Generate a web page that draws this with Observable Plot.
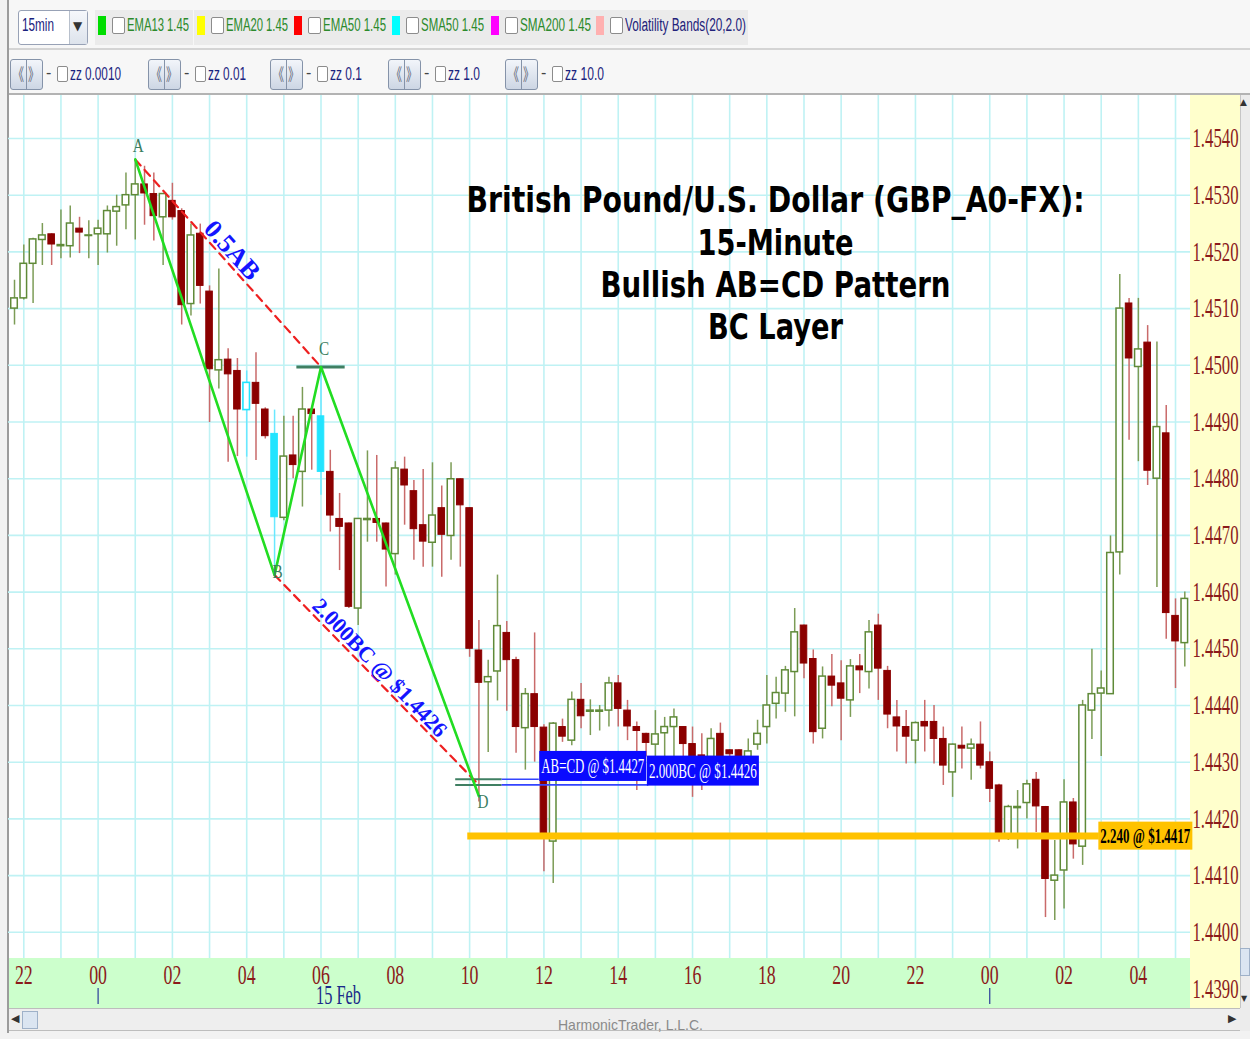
<!DOCTYPE html>
<html><head><meta charset="utf-8">
<script src="https://cdn.jsdelivr.net/npm/d3@7"></script>
<script src="https://cdn.jsdelivr.net/npm/@observablehq/plot@0.6"></script>
<style>
body{margin:0;background:#fff;width:1250px;height:1039px;overflow:hidden;font-family:"Liberation Sans",Arial,sans-serif}
#page{position:relative;width:1250px;height:1039px;background:#f2f2f2;overflow:hidden}
</style></head><body><div id="page"></div>
<script>
// ---------------- data ----------------
const startTime = Date.UTC(2011, 1, 14, 21, 45); // first 15-min bar
const barMinutes = 15;
const opens = [1.45100,1.45118,1.45179,1.45221,1.45231,1.45210,1.45210,1.45241,1.45228,1.45231,1.45231,1.45271,1.45282,1.45300,1.45319,1.45302,1.45261,1.45290,1.45272,1.45108,1.45232,1.45130,1.44991,1.45010,1.44990,1.44921,1.44969,1.44922,1.44879,1.44731,1.44841,1.44812,1.44922,1.44910,1.44812,1.44729,1.44721,1.44571,1.44727,1.44729,1.44721,1.44667,1.44816,1.44778,1.44718,1.44687,1.44748,1.44699,1.44799,1.44748,1.44497,1.44441,1.44460,1.44528,1.44480,1.44360,1.44420,1.44361,1.44160,1.44362,1.44338,1.44410,1.44389,1.44389,1.44391,1.44439,1.44391,1.44362,1.44350,1.44331,1.44351,1.44362,1.44362,1.44332,1.44312,1.44309,1.44350,1.44321,1.44321,1.44309,1.44331,1.44362,1.44403,1.44421,1.44459,1.44541,1.44482,1.44359,1.44451,1.44439,1.44409,1.44469,1.44459,1.44541,1.44461,1.44379,1.44362,1.44338,1.44371,1.44371,1.44341,1.44282,1.44329,1.44324,1.44331,1.44300,1.44259,1.44171,1.44219,1.44228,1.44269,1.44221,1.44091,1.44109,1.44229,1.44151,1.44391,1.44421,1.44420,1.44670,1.45109,1.44997,1.45040,1.44800,1.44880,1.44558,1.44510];
const highs = [1.45150,1.45212,1.45224,1.45250,1.45232,1.45274,1.45281,1.45261,1.45255,1.45256,1.45281,1.45300,1.45339,1.45363,1.45351,1.45339,1.45303,1.45321,1.45276,1.45249,1.45249,1.45140,1.45170,1.45029,1.45012,1.44990,1.45022,1.44925,1.44921,1.44910,1.44910,1.44961,1.44923,1.44997,1.44850,1.44774,1.44722,1.44730,1.44849,1.44841,1.44722,1.44830,1.44838,1.44797,1.44816,1.44828,1.44787,1.44828,1.44800,1.44749,1.44550,1.44480,1.44630,1.44548,1.44485,1.44430,1.44528,1.44366,1.44370,1.44376,1.44424,1.44439,1.44410,1.44400,1.44450,1.44453,1.44409,1.44371,1.44351,1.44391,1.44379,1.44394,1.44363,1.44362,1.44350,1.44359,1.44369,1.44322,1.44322,1.44341,1.44374,1.44453,1.44450,1.44469,1.44571,1.44542,1.44498,1.44468,1.44490,1.44479,1.44481,1.44490,1.44550,1.44561,1.44469,1.44409,1.44391,1.44371,1.44409,1.44400,1.44362,1.44332,1.44362,1.44341,1.44371,1.44318,1.44261,1.44224,1.44250,1.44268,1.44282,1.44222,1.44162,1.44269,1.44236,1.44409,1.44499,1.44461,1.44699,1.45160,1.45118,1.45118,1.45070,1.45041,1.44929,1.44588,1.44600];
const lows = [1.45071,1.45115,1.45109,1.45176,1.45176,1.45188,1.45189,1.45197,1.45188,1.45176,1.45198,1.45210,1.45239,1.45221,1.45247,1.45219,1.45176,1.45256,1.45071,1.45087,1.45108,1.44899,1.44958,1.44829,1.44839,1.44838,1.44832,1.44870,1.44630,1.44726,1.44800,1.44750,1.44815,1.44771,1.44706,1.44638,1.44571,1.44541,1.44688,1.44688,1.44609,1.44630,1.44718,1.44656,1.44644,1.44644,1.44626,1.44656,1.44644,1.44485,1.44230,1.44317,1.44408,1.44390,1.44316,1.44286,1.44300,1.44107,1.44086,1.44335,1.44329,1.44359,1.44347,1.44355,1.44362,1.44362,1.44338,1.44250,1.44309,1.44303,1.44309,1.44309,1.44303,1.44238,1.44250,1.44297,1.44291,1.44294,1.44303,1.44303,1.44321,1.44332,1.44376,1.44388,1.44380,1.44447,1.44332,1.44341,1.44398,1.44338,1.44379,1.44421,1.44429,1.44409,1.44359,1.44318,1.44297,1.44297,1.44318,1.44297,1.44259,1.44238,1.44288,1.44268,1.44288,1.44229,1.44159,1.44162,1.44147,1.44200,1.44176,1.44026,1.44021,1.44041,1.44129,1.44118,1.44340,1.44310,1.44420,1.44630,1.44868,1.44830,1.44788,1.44608,1.44517,1.44430,1.44468];
const closes = [1.45118,1.45179,1.45222,1.45229,1.45213,1.45212,1.45250,1.45234,1.45229,1.45241,1.45272,1.45279,1.45300,1.45319,1.45303,1.45263,1.45302,1.45261,1.45106,1.45229,1.45140,1.44993,1.45009,1.44984,1.44922,1.44969,1.44932,1.44875,1.44732,1.44839,1.44824,1.44922,1.44914,1.44812,1.44735,1.44715,1.44574,1.44729,1.44729,1.44722,1.44675,1.44818,1.44788,1.44711,1.44689,1.44735,1.44701,1.44799,1.44753,1.44500,1.44440,1.44450,1.44540,1.44480,1.44362,1.44420,1.44362,1.44175,1.44368,1.44345,1.44410,1.44381,1.44391,1.44391,1.44439,1.44394,1.44363,1.44355,1.44334,1.44349,1.44362,1.44379,1.44332,1.44309,1.44306,1.44341,1.44309,1.44314,1.44309,1.44319,1.44350,1.44400,1.44422,1.44462,1.44529,1.44474,1.44353,1.44451,1.44435,1.44412,1.44469,1.44462,1.44529,1.44465,1.44384,1.44363,1.44345,1.44369,1.44363,1.44341,1.44294,1.44331,1.44324,1.44331,1.44294,1.44253,1.44174,1.44221,1.44221,1.44261,1.44222,1.44094,1.44100,1.44229,1.44155,1.44400,1.44420,1.44430,1.44669,1.45100,1.45012,1.45028,1.44814,1.44891,1.44563,1.44513,1.44588];
const highlightedBars = [25, 28, 33];           // cyan bars

const yTicks = [1.4390,1.4400,1.4410,1.4420,1.4430,1.4440,1.4450,1.4460,1.4470,1.4480,1.4490,1.4500,1.4510,1.4520,1.4530,1.4540];

// AB=CD pattern (bar index, price)
const patternNames = ["A", "B", "C", "D"];
const patternBars = [13, 28, 33, 50];
const patternPrices = [1.45363, 1.44630, 1.44997, 1.44240];

// projected levels
const levelPrices = [1.4427, 1.4426, 1.4417];
const levelTexts = ["AB=CD @ $1.4427", "2.000BC @ $1.4426", "2.240 @ $1.4417"];
const levelStartBar = [47.5, 47.5, 48.8];
const levelLabelBar = [56.5, 68.3, 116.8];

const ratioTexts = ["0.5AB", "2.000BC @ $1.4426"];
const ratioEnd = [1.4426];

const titleLines = ["British Pound/U.S. Dollar (GBP_A0-FX):", "15-Minute", "Bullish AB=CD Pattern", "BC Layer"];

const indicatorNames = ["EMA13 1.45","EMA20 1.45","EMA50 1.45","SMA50 1.45","SMA200 1.45","Volatility Bands(20,2.0)"];
const indicatorColors = ["#00dd00","#ffff00","#ff0000","#00ffff","#ff00ff","#ffb0b0"];
const zigzagNames = ["zz 0.0010","zz 0.01","zz 0.1","zz 1.0","zz 10.0"];

// ---------------- helpers ----------------
const at = i => new Date(startTime + i * barMinutes * 60000);
const page = document.getElementById("page");
function box(x, y, w, h, style) {
  const d = document.createElement("div");
  d.style.cssText = `position:absolute;left:${x}px;top:${y}px;width:${w}px;height:${h}px;box-sizing:border-box;${style || ""}`;
  page.appendChild(d); return d;
}
function label(x, y, text, style, targetW) {
  const d = document.createElement("div");
  d.textContent = text;
  d.style.cssText = `position:absolute;left:${x}px;top:${y}px;white-space:nowrap;transform-origin:0 0;${style || ""}`;
  page.appendChild(d);
  if (targetW) { const w = d.getBoundingClientRect().width; d.style.transform = `scaleX(${targetW / w})`; }
  return d;
}

// ---------------- toolbar ----------------
box(8, 0, 1242, 48, "background:#f7f7f7");
box(8, 48, 1242, 2, "background:#d4d4d4");
box(8, 50, 1242, 43, "background:#f7f7f7");
box(8, 93, 1242, 2, "background:#b3b3b3");
box(18, 10, 70, 35, "background:#fff;border:1px solid #98a2b6;border-radius:3px");
box(69, 11, 1, 33, "background:#b8c0cc");
box(70, 11, 17, 33, "background:linear-gradient(#f6f8fb,#dde3ec)");
label(22, 15, "15min", "font:18px 'Liberation Sans';color:#1a237e", 32);
label(73, 19, "▼", "font:12px 'DejaVu Sans';color:#333");
const itemX = [95, 194, 291, 389, 488, 593], itemW = [98, 97, 98, 99, 105, 155], itemTW = [62, 62, 63, 63, 71, 121];
indicatorNames.forEach((n, k) => {
  const x = itemX[k];
  box(x, 10, itemW[k], 35, "background:#ebebeb");
  box(x + 3, 16, 8, 19, `background:${indicatorColors[k]}`);
  box(x + 17, 17, 13, 17, "background:#fff;border:1px solid #8c8c8c;border-radius:2px");
  label(x + 32, 15, n, `font:18px 'Liberation Sans';color:${k < 5 ? "#2c8a2c" : "#22227a"}`, itemTW[k]);
});
const zzX = [10, 148, 270, 388, 505], zzTW = [51, 38, 32, 32, 39];
zigzagNames.forEach((n, k) => {
  const x = zzX[k];
  box(x, 59, 33, 31, "background:linear-gradient(#f2f5fa,#cdd6e4);border:1px solid #8593a9;border-radius:3px");
  box(x + 16, 60, 1, 29, "background:#8593a9");
  label(x + 3, 61, "《", "font:17px 'Noto Sans CJK SC';color:#5a6070", 11);
  label(x + 18, 61, "》", "font:17px 'Noto Sans CJK SC';color:#5a6070", 11);
  label(x + 36, 64, "-", "font:16px 'Liberation Sans';color:#444");
  box(x + 47, 66, 11, 16, "background:#fff;border:1px solid #8c8c8c;border-radius:2px");
  label(x + 60, 64, n, "font:18px 'Liberation Sans';color:#1a237e", zzTW[k]);
});

// ---------------- chart backgrounds ----------------
box(8, 95, 1182, 863, "background:#fff");
box(1190, 95, 50, 913, "background:#ffffcc");
box(8, 958, 1182, 50, "background:#ccffcc");
box(1240, 95, 10, 913, "background:#ececec;border-left:1px solid #c6c6c6");
label(1240, 97, "▲", "font:9px 'DejaVu Sans';color:#333");
box(1240, 948, 10, 28, "background:#dbe5f1;border:1px solid #9fb1c8");
label(1241, 994, "▼", "font:8px 'DejaVu Sans';color:#333");
box(8, 1008, 1232, 23, "background:#eeeeee;border-top:1px solid #bdbdbd;border-bottom:1px solid #bdbdbd");
label(11, 1012, "◀", "font:11px 'DejaVu Sans';color:#333");
box(22, 1011, 16, 18, "background:#dbe5f1;border:1px solid #9fb1c8");
label(1228, 1012, "▶", "font:11px 'DejaVu Sans';color:#333");
box(1240, 1008, 10, 23, "background:#ececec");
label(558, 1016, "HarmonicTrader, L.L.C.", "font:15px 'Liberation Sans';color:#8a8a8a", 145);
box(7, 0, 2, 1033, "background:#9c9c9c");

// ---------------- chart ----------------
const candles = opens.map((o, i) => ({t: at(i), o, h: highs[i], l: lows[i], c: closes[i], hl: highlightedBars.includes(i)}));
const up = d => d.c >= d.o;
const half = 5.3 * 60000;
const bx1 = d => new Date(+d.t - half), bx2 = d => new Date(+d.t + half);

const xDomain = [new Date(Date.UTC(2011, 1, 14, 21, 35, 18)), new Date(Date.UTC(2011, 1, 16, 5, 24, 12))];
const yDomain = [1.439538, 1.454758];
const inFrame = yTicks.filter(v => v >= yDomain[0] && v <= yDomain[1]);

const pattern = patternBars.map((b, k) => ({t: at(b), p: patternPrices[k], n: patternNames[k]}));
const [A, B, C, D] = pattern;
const lblDx = [3, 3, 3, 4], lblDy = [-14, -3, -18, 6];

const levels = levelPrices.map((p, k) => ({p, s: levelTexts[k], t0: at(levelStartBar[k]), tl: at(levelLabelBar[k]), tm: at(52.5)}));

const chart = Plot.plot({
  width: 1250, height: 913,
  marginLeft: 8, marginRight: 60, marginTop: 0, marginBottom: 50,
  x: {type: "utc", domain: xDomain, label: null},
  y: {type: "linear", domain: yDomain, label: null},
  style: {background: "transparent", fontFamily: "Liberation Serif", overflow: "visible", maxWidth: "none"},
  marks: [
    Plot.ruleX(d3.utcHour.range(xDomain[0], xDomain[1]), {stroke: "#bff2f4", strokeWidth: 1.6}),
    Plot.ruleY(inFrame, {stroke: "#bff2f4", strokeWidth: 1.6}),
    Plot.axisY(yTicks, {anchor: "right", tickSize: 0, tickPadding: 2, tickFormat: d3.format(".4f"), color: "#8b1a1a", fontSize: 27, fontFamily: "Liberation Serif", label: null}),
    Plot.axisX(d3.utcHour.every(2).range(xDomain[0], xDomain[1]), {anchor: "bottom", tickSize: 0, tickPadding: 6, tickFormat: d3.utcFormat("%H"), color: "#8b1a1a", fontSize: 27, fontFamily: "Liberation Serif", label: null}),
    Plot.axisX([at(9), at(105)], {anchor: "bottom", tickSize: 16, tickFormat: () => "", dy: 30, stroke: "#2a3a9a", strokeWidth: 1.2, label: null}),
    Plot.text([{t: at(33), s: "15 Feb"}], {x: "t", frameAnchor: "bottom", lineAnchor: "middle", text: "s", dy: 37, dx: -5, textAnchor: "start", fill: "#1a2a8a", fontSize: 27, fontFamily: "Liberation Serif"}),
    // wicks
    Plot.ruleX(candles, {filter: d => !d.hl && up(d), x: "t", y1: "l", y2: "h", stroke: "#7c9c56", strokeWidth: 1.5}),
    Plot.ruleX(candles, {filter: d => !d.hl && !up(d), x: "t", y1: "l", y2: "h", stroke: "#c96a6a", strokeWidth: 1.5}),
    Plot.ruleX(candles, {filter: d => d.hl, x: "t", y1: "l", y2: "h", stroke: "#6ae8ff", strokeWidth: 1.5}),
    // bodies
    Plot.rect(candles, {filter: d => !d.hl && up(d), x1: bx1, x2: bx2, y1: "o", y2: "c", fill: "white", stroke: "#5f8a38", strokeWidth: 1.5}),
    Plot.rect(candles, {filter: d => !d.hl && !up(d), x1: bx1, x2: bx2, y1: "o", y2: "c", fill: "#8b0000", stroke: "#8b0000", strokeWidth: 1}),
    Plot.rect(candles, {filter: d => d.hl && up(d), x1: bx1, x2: bx2, y1: "o", y2: "c", fill: "white", stroke: "#22e4ff", strokeWidth: 1.6}),
    Plot.rect(candles, {filter: d => d.hl && !up(d), x1: bx1, x2: bx2, y1: "o", y2: "c", fill: "#22e4ff", stroke: "#22e4ff", strokeWidth: 1}),
    // projection level 2.240
    Plot.ruleY(levels.slice(2), {y: "p", x1: "t0", x2: "tl", stroke: "#ffc200", strokeWidth: 7}),
    // D level stubs
    Plot.ruleY(levels.slice(0, 2), {y: "p", x1: "t0", x2: "tm", stroke: "#3f7f62", strokeWidth: 2}),
    Plot.ruleY(levels.slice(0, 2), {y: "p", x1: "tm", x2: "tl", stroke: "#3344ff", strokeWidth: 1.6}),
    // C stub
    Plot.ruleY([C], {y: "p", x1: () => at(30.4), x2: () => at(35.6), stroke: "#3f7f62", strokeWidth: 3}),
    // dashed legs
    Plot.line([A, C], {x: "t", y: "p", stroke: "#ee2020", strokeWidth: 2.2, strokeDasharray: "8,6"}),
    Plot.line([B, {t: D.t, p: ratioEnd[0]}], {x: "t", y: "p", stroke: "#ee2020", strokeWidth: 2.2, strokeDasharray: "8,6"}),
    // pattern
    Plot.line(pattern, {x: "t", y: "p", stroke: "#22dd22", strokeWidth: 2.6}),
    ...pattern.map((d, k) => Plot.text([d], {x: "t", y: "p", text: "n", dx: lblDx[k], dy: lblDy[k], fill: "#3a7d60", fontSize: 19, fontFamily: "Liberation Serif"})),
    // rotated ratio labels
    Plot.text([{t: at(23), p: (A.p + C.p) / 2, s: ratioTexts[0]}], {x: "t", y: "p", text: "s", rotate: 48, dx: 4, dy: -13, fill: "#1414ff", fontWeight: "bold", fontSize: 26, fontFamily: "Liberation Serif"}),
    Plot.text([{t: at(39), p: (B.p + ratioEnd[0]) / 2, s: ratioTexts[1]}], {x: "t", y: "p", text: "s", rotate: 46, dx: 3, dy: -12, fill: "#1414ff", fontWeight: "bold", fontSize: 22, fontFamily: "Liberation Serif"}),
    // level labels
    Plot.text([levels[0]], {x: "tl", y: "p", text: "s", textAnchor: "start", dx: 2, dy: -13, fill: "white", fontSize: 21, fontFamily: "Liberation Serif"}),
    Plot.text([levels[1]], {x: "tl", y: "p", text: "s", textAnchor: "start", dx: 0, dy: -14, fill: "white", fontSize: 21, fontFamily: "Liberation Serif"}),
    Plot.text([levels[2]], {x: "tl", y: "p", text: "s", textAnchor: "start", dx: 1, dy: 0, fill: "black", fontWeight: "bold", fontSize: 21, fontFamily: "Liberation Serif"}),
    // title
    ...titleLines.map((s, k) => Plot.text([s], {frameAnchor: "top", lineAnchor: "middle", text: d => d, dx: 176, dy: [105, 148, 190, 232][k], fontSize: 36, fontWeight: "bold", fontFamily: "DejaVu Sans", fill: "black"}))
  ]
});

const holder = document.createElement("div");
holder.style.cssText = "position:absolute;left:0;top:95px;width:1250px;height:913px";
holder.appendChild(chart);
page.appendChild(holder);

// ---------- condense the narrow screen fonts (matched by content) ----------
const svgRoot = holder.querySelector("svg") || chart;
const allTexts = [...svgRoot.querySelectorAll("text")];
const fsOf = t => parseFloat(getComputedStyle(t).fontSize);
function fitWhere(pred, f) {
  allTexts.forEach(t => {
    const s = t.textContent;
    if (!pred(s, t)) return;
    const L = t.getComputedTextLength();
    t.setAttribute("textLength", typeof f === "function" ? f(L, t) : f);
    t.setAttribute("lengthAdjust", "spacingAndGlyphs");
  });
}
fitWhere(s => /^1\.4\d{3}$/.test(s), 46);
fitWhere(s => /^\d\d$/.test(s), L => L * 0.66);
fitWhere(s => s === "15 Feb", 45);
fitWhere(s => /^[ABCD]$/.test(s), L => L * 0.8);
fitWhere(s => s === ratioTexts[0], 70);
fitWhere((s, t) => s === ratioTexts[1] && fsOf(t) > 21.5, 183);
fitWhere(s => s === levelTexts[0], 103);
fitWhere((s, t) => s === levelTexts[1] && fsOf(t) < 21.5, 108);
fitWhere(s => s === levelTexts[2], 90);
[618, 156, 350, 135].forEach((w, k) => fitWhere(s => s === titleLines[k], w));

function boxWhere(pred, fill, px, py) {
  allTexts.forEach(t => {
    if (!pred(t.textContent, t)) return;
    const b = t.getBBox();
    const r = document.createElementNS("http://www.w3.org/2000/svg", "rect");
    r.setAttribute("x", b.x - px); r.setAttribute("y", b.y - py);
    r.setAttribute("width", b.width + 2 * px); r.setAttribute("height", b.height + 2 * py);
    const tr = t.getAttribute("transform");
    if (tr) r.setAttribute("transform", tr);
    r.setAttribute("fill", fill);
    t.parentNode.insertBefore(r, t);
  });
}
boxWhere(s => s === levelTexts[0], "#0a0aff", 2, 3);
boxWhere((s, t) => s === levelTexts[1] && fsOf(t) < 21.5, "#0a0aff", 2, 3);
boxWhere(s => s === levelTexts[2], "#ffc200", 2, 2);
</script></body></html>
